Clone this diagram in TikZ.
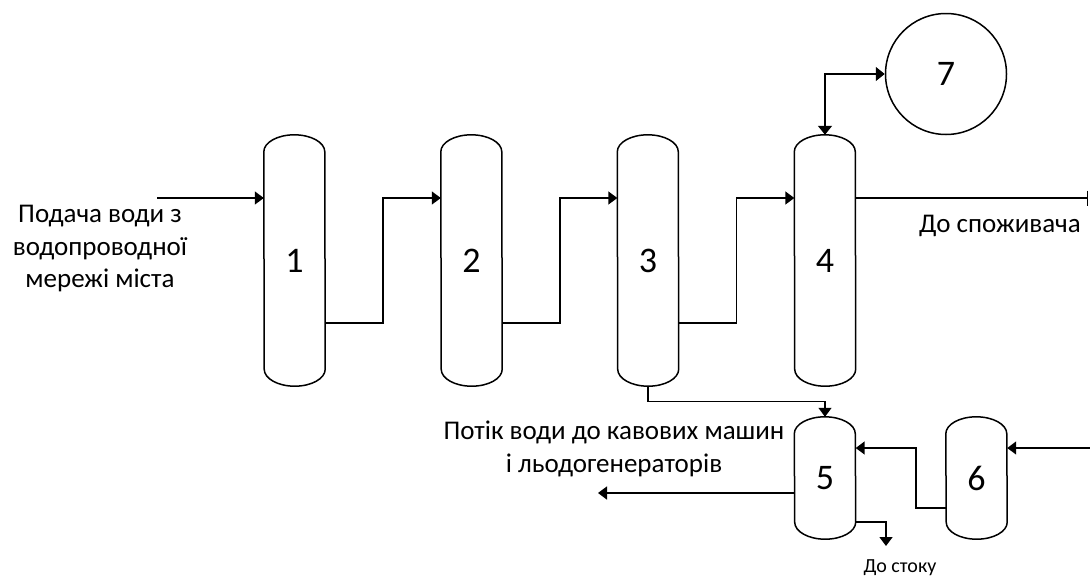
\documentclass[tikz,border=0pt]{standalone}
\usepackage{fontspec}
\setmainfont{Carlito}
\usetikzlibrary{arrows.meta,calc}
\tikzset{
  vline/.style={line width=1.5pt},
  flow/.style={line width=1.5pt,-{Triangle[length=9pt,width=13pt]}},
  vessel/.style={draw=none,inner sep=0pt,minimum width=61pt,font=\fontsize{36}{40}\selectfont},
  lbl/.style={font=\fontsize{27}{32.5}\selectfont,align=center},
}
% outline of a vessel: straight walls of the node plus elliptic domes
\newcommand\vesselshape[1]{%
  \draw[vline] (#1.north west) arc[start angle=180,end angle=0,x radius=30.5pt,y radius=17pt]
    -- (#1.south east) arc[start angle=0,end angle=-180,x radius=30.5pt,y radius=17pt] -- cycle;}
\begin{document}
\begin{tikzpicture}[x=1pt,y=-1pt]
\useasboundingbox (0,0) rectangle (1090,579);

% filter columns
\node[vessel,minimum height=217pt] (t1) at (294.5,260.5) {1};
\node[vessel,minimum height=217pt] (t2) at (471.5,260.5) {2};
\node[vessel,minimum height=217pt] (t3) at (648,260.5) {3};
\node[vessel,minimum height=217pt] (t4) at (825,260.5) {4};
\node[vessel,minimum height=88pt] (t5) at (825,478) {5};
\node[vessel,minimum height=88pt] (t6) at (976.5,478) {6};
\foreach \t in {t1,t2,t3,t4,t5,t6} {\vesselshape{\t}}

\node[draw,circle,line width=1.5pt,minimum size=121pt,inner sep=0pt,font=\fontsize{36}{40}\selectfont] (c7) at (946,74) {7};

% labels
\node[lbl] (src) at (100,249) {Подача води з\\водопроводної\\мережі міста};
\node[lbl] (cons) at (1000,226) {До споживача};
\node[lbl] (cof) at (614,449) {Потік води до кавових машин\\і льодогенераторів};
\node[font=\fontsize{20}{24}\selectfont,anchor=base] (sink) at (900,572) {До стоку};

% free ends
\coordinate (in1) at (157,198);
\coordinate (out4) at (1088,198);
\coordinate (in6) at (1090,448);
\coordinate (out5) at (598,493);
\coordinate (drain) at (886,546);
\coordinate (t3b) at ([yshift=-17pt]t3.south);
\coordinate (t4t) at ([yshift=17pt]t4.north);
\coordinate (t5t) at ([yshift=17pt]t5.north);

% main line
\draw[flow] (in1) -- ([yshift=62.5pt]t1.west);
\draw[flow] ([yshift=-62.5pt]t1.east) -| ($([yshift=62.5pt]t1.east)!0.5!([yshift=62.5pt]t2.west)$) -- ([yshift=62.5pt]t2.west);
\draw[flow] ([yshift=-62.5pt]t2.east) -| ($([yshift=62.5pt]t2.east)!0.5!([yshift=62.5pt]t3.west)$) -- ([yshift=62.5pt]t3.west);
\draw[flow] ([yshift=-62.5pt]t3.east) -| ($([yshift=62.5pt]t3.east)!0.5!([yshift=62.5pt]t4.west)$) -- ([yshift=62.5pt]t4.west);
\draw[line width=1.5pt,-{Bar[width=15pt]}] ([yshift=62.5pt]t4.east) -- (out4);
\draw[line width=1.5pt,{Triangle[length=9pt,width=14pt]}-{Triangle[length=9pt,width=14pt]}] (t4t) |- (c7.west);

% branch line
\draw[flow] (t3b) |- ($(t3b)!0.5!(t5t)$) -| (t5t);
\draw[flow] (in6) -- ([yshift=30pt]t6.east);
\draw[flow] ([yshift=-30pt]t6.west) -| ([xshift=-30pt]t6.west) |- ([yshift=30pt]t5.east);
\draw[flow] ([yshift=-15pt]t5.west) -- (out5);
\draw[flow] (t5.south east) -| (drain);
\end{tikzpicture}
\end{document}
